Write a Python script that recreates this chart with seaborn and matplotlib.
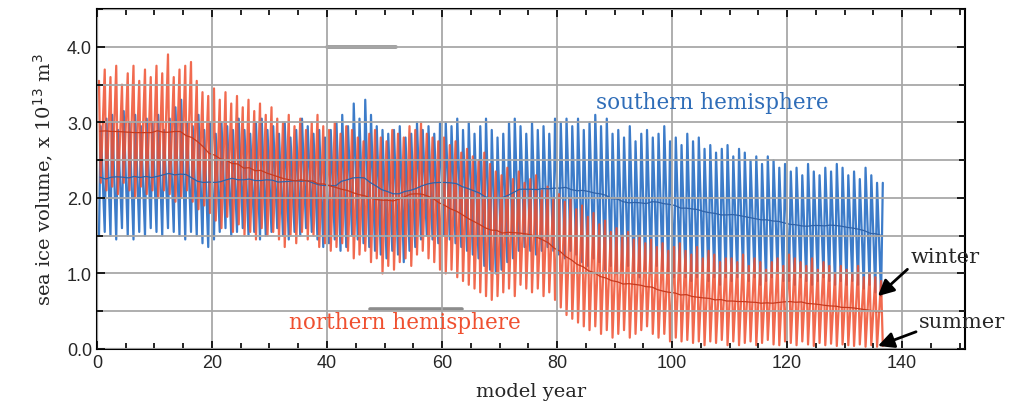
import matplotlib
matplotlib.use("Agg")
import matplotlib.pyplot as plt
import numpy as np
import pandas as pd
import seaborn as sns
from matplotlib.ticker import MultipleLocator

# annual extremes, x 10^13 m^3, model years 0..136
south_max = [
    2.95, 3.05, 3.10, 2.90, 3.15, 3.00, 3.10, 2.95, 3.05, 3.00,
    3.10, 2.90, 3.05, 3.20, 3.30, 3.00, 2.95, 3.10, 2.90, 3.00,
    2.85, 3.00, 2.95, 2.90, 3.05, 2.90, 2.85, 3.00, 3.05, 2.90,
    2.95, 2.85, 3.00, 2.80, 2.90, 3.05, 2.95, 2.85, 2.90, 2.80,
    2.90, 3.00, 3.10, 2.95, 3.25, 3.05, 3.30, 3.10, 2.95, 2.90,
    2.85, 2.90, 2.95, 2.80, 2.85, 3.00, 2.90, 2.95, 2.85, 3.00,
    3.00, 2.95, 3.05, 2.90, 3.00, 2.85, 2.95, 3.05, 2.90, 2.80,
    2.85, 3.00, 3.05, 2.95, 2.85, 3.00, 2.90, 2.95, 2.85, 3.05,
    3.00, 3.05, 2.95, 3.05, 2.90, 3.00, 3.10, 2.95, 3.05, 2.85,
    2.90, 2.80, 2.95, 2.75, 2.85, 2.90, 2.80, 2.85, 2.95, 2.75,
    2.80, 2.70, 2.85, 2.75, 2.80, 2.65, 2.70, 2.60, 2.65, 2.70,
    2.55, 2.65, 2.60, 2.50, 2.55, 2.45, 2.55, 2.50, 2.40, 2.45,
    2.35, 2.40, 2.30, 2.45, 2.35, 2.30, 2.40, 2.35, 2.45, 2.40,
    2.30, 2.35, 2.25, 2.40, 2.30, 2.20, 2.20,
]
south_min = [
    1.50, 1.55, 1.50, 1.45, 1.60, 1.50, 1.45, 1.55, 1.50, 1.60,
    1.55, 1.50, 1.60, 1.55, 1.50, 1.45, 1.55, 1.50, 1.40, 1.35,
    1.45, 1.55, 1.60, 1.50, 1.55, 1.60, 1.50, 1.55, 1.45, 1.50,
    1.55, 1.60, 1.50, 1.45, 1.55, 1.50, 1.60, 1.55, 1.45, 1.35,
    1.40, 1.45, 1.30, 1.35, 1.50, 1.45, 1.40, 1.35, 1.30, 1.25,
    1.20, 1.30, 1.25, 1.15, 1.30, 1.35, 1.45, 1.50, 1.45, 1.40,
    1.50, 1.45, 1.40, 1.35, 1.30, 1.25, 1.20, 1.10, 1.05, 1.00,
    1.05, 1.15, 1.20, 1.30, 1.35, 1.30, 1.25, 1.30, 1.35, 1.30,
    1.25, 1.20, 1.30, 1.25, 1.15, 1.10, 1.20, 1.15, 1.05, 1.10,
    1.00, 1.05, 1.10, 1.00, 0.95, 1.05, 1.00, 1.10, 1.05, 1.00,
    0.95, 1.00, 0.95, 0.90, 0.95, 1.00, 0.90, 0.95, 0.85, 0.95,
    0.90, 0.95, 1.00, 0.90, 0.95, 0.85, 0.90, 0.95, 1.00, 0.90,
    0.90, 0.85, 0.95, 0.90, 0.85, 0.90, 0.95, 0.90, 0.85, 0.90,
    0.85, 0.90, 0.85, 0.80, 0.85, 0.75, 0.70,
]
north_max = [
    3.55, 3.70, 3.60, 3.75, 3.50, 3.65, 3.75, 3.55, 3.70, 3.60,
    3.75, 3.65, 3.90, 3.60, 3.70, 3.75, 3.80, 3.55, 3.40, 3.35,
    3.45, 3.30, 3.40, 3.25, 3.35, 3.20, 3.30, 3.15, 3.25, 3.10,
    3.20, 3.05, 3.00, 3.10, 2.95, 3.05, 2.90, 3.00, 3.10, 2.95,
    2.90, 3.00, 2.85, 2.95, 2.90, 2.80, 2.75, 2.85, 2.90, 2.80,
    2.75, 2.90, 2.85, 2.80, 2.95, 2.90, 3.00, 2.85, 2.80, 2.75,
    2.80, 2.70, 2.75, 2.60, 2.65, 2.55, 2.50, 2.60, 2.45, 2.35,
    2.30, 2.40, 2.25, 2.35, 2.20, 2.25, 2.30, 2.10, 2.15, 2.00,
    2.05, 1.95, 2.00, 1.85, 1.90, 1.75, 1.80, 1.65, 1.70, 1.55,
    1.60, 1.50, 1.55, 1.45, 1.50, 1.40, 1.45, 1.35, 1.40, 1.30,
    1.35, 1.40, 1.30, 1.25, 1.35, 1.20, 1.30, 1.25, 1.15, 1.20,
    1.20, 1.15, 1.25, 1.10, 1.20, 1.15, 1.05, 1.15, 1.20, 1.10,
    1.25, 1.20, 1.15, 1.10, 1.20, 1.05, 1.15, 1.10, 1.00, 1.10,
    1.05, 1.00, 1.10, 0.95, 1.00, 0.95, 0.90,
]
north_min = [
    2.20, 2.10, 2.15, 2.05, 2.20, 2.10, 2.00, 2.15, 2.05, 2.10,
    2.00, 2.10, 2.05, 1.95, 2.00, 2.10, 1.95, 1.85, 1.90, 1.80,
    1.70, 1.60, 1.75, 1.55, 1.65, 1.50, 1.55, 1.45, 1.60, 1.50,
    1.55, 1.45, 1.35, 1.50, 1.40, 1.55, 1.45, 1.50, 1.35, 1.40,
    1.30, 1.35, 1.40, 1.30, 1.20, 1.25, 1.30, 1.15, 1.20, 1.00,
    1.10, 1.05, 1.15, 1.20, 1.10, 1.25, 1.30, 1.20, 1.15, 1.05,
    1.00, 1.05, 0.95, 0.90, 0.85, 0.80, 0.75, 0.70, 0.65, 0.70,
    0.75, 0.80, 0.70, 0.85, 0.80, 0.75, 0.80, 0.70, 0.75, 0.65,
    0.55, 0.45, 0.40, 0.35, 0.30, 0.25, 0.30, 0.20, 0.25, 0.15,
    0.20, 0.25, 0.15, 0.20, 0.25, 0.30, 0.20, 0.15, 0.20, 0.10,
    0.15, 0.10, 0.12, 0.08, 0.10, 0.05, 0.10, 0.08, 0.12, 0.05,
    0.10, 0.05, 0.08, 0.10, 0.05, 0.08, 0.12, 0.06, 0.05, 0.10,
    0.08, 0.05, 0.10, 0.06, 0.04, 0.08, 0.05, 0.07, 0.04, 0.06,
    0.05, 0.04, 0.06, 0.03, 0.05, 0.03, 0.04,
]
years = np.arange(len(south_max))

BLUE = "#3d7cc9"
RED = "#ef5030"


def seasonal_frame(low_first, high_first, name):
    # winter peak and summer trough of each year, close together in time
    rows = []
    for y, a, b in zip(years, low_first, high_first):
        rows.append((y + 0.35, a, name))
        rows.append((y + 0.65, b, name))
    return pd.DataFrame(rows, columns=["year", "volume", "hemisphere"])


df_s = seasonal_frame(south_min, south_max, "south")
df_n = seasonal_frame(north_max, north_min, "north")

mean_s = pd.Series((np.array(south_max) + np.array(south_min)) / 2).rolling(5, center=True, min_periods=1).mean()
mean_n = pd.Series((np.array(north_max) + np.array(north_min)) / 2).rolling(5, center=True, min_periods=1).mean()

sns.set_style("ticks")
plt.rcParams["font.family"] = ["Liberation Sans", "DejaVu Sans"]

fig = plt.figure(figsize=(10.24, 4.14), dpi=100)
ax = fig.add_axes([0.0947, 0.1546, 0.848, 0.821])

sns.lineplot(data=df_s, x="year", y="volume", color=BLUE, lw=1.6, sort=False,
             estimator=None, ax=ax)
sns.lineplot(data=df_n, x="year", y="volume", color=RED, lw=1.6, alpha=0.85,
             sort=False, estimator=None, ax=ax)
sns.lineplot(x=years + 0.5, y=mean_s.values, color="#2f62a8", lw=0.9, ax=ax)
sns.lineplot(x=years + 0.5, y=mean_n.values, color="#c83a1e", lw=0.9, ax=ax)

ax.set_xlim(0, 151)
ax.set_ylim(0, 4.5)
ax.xaxis.set_major_locator(MultipleLocator(20))
ax.xaxis.set_minor_locator(MultipleLocator(5))
ax.yaxis.set_major_locator(MultipleLocator(1.0))
ax.yaxis.set_minor_locator(MultipleLocator(0.5))
ax.set_yticklabels([f"{v:.1f}" for v in ax.get_yticks()])
ax.tick_params(which="both", direction="in", top=True, right=True, width=1.2,
               labelsize=13, color="black")
ax.tick_params(which="major", length=6)
ax.tick_params(which="minor", length=4)
ax.grid(which="major", axis="x", color="#a8a8a8", lw=1.3)
ax.grid(which="both", axis="y", color="#a8a8a8", lw=1.3)
ax.set_axisbelow(False)
for sp in ax.spines.values():
    sp.set_linewidth(1.5)
    sp.set_color("black")

# darker patches on the grid seen in the original
ax.plot([40, 52], [4.0, 4.0], color="#8c8c8c", lw=2.6)
ax.plot([47.5, 63.5], [0.53, 0.53], color="#8c8c8c", lw=2.6)

serif = ["DejaVu Serif"]
ax.set_xlabel("model year", family=serif, fontsize=14, labelpad=8)
ax.set_ylabel(r"sea ice volume, x 10$^{13}$ m$^3$", family=serif, fontsize=14, labelpad=8)

ax.text(107, 3.27, "southern hemisphere", color="#2f6db8", family=serif,
        fontsize=15.5, ha="center", va="center")
ax.text(53.5, 0.36, "northern hemisphere", color=RED, family=serif,
        fontsize=15.5, ha="center", va="center")

arrow = dict(arrowstyle="-|>", color="black", lw=2, mutation_scale=24,
             shrinkA=0, shrinkB=0, relpos=(0, 0))
ax.annotate("winter", xy=(135.8, 0.70), xytext=(141.5, 1.22), family=serif,
            fontsize=15, va="center", ha="left", arrowprops=arrow,
            annotation_clip=False)
ax.annotate("summer", xy=(135.8, 0.04), xytext=(143, 0.37), family=serif,
            fontsize=15, va="center", ha="left", arrowprops=arrow,
            annotation_clip=False)

fig.savefig("out.png", dpi=100)
